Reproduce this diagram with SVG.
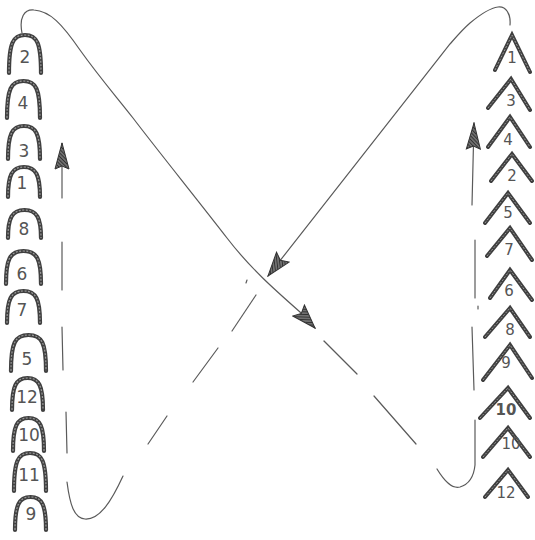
<svg xmlns="http://www.w3.org/2000/svg" width="535" height="540" viewBox="0 0 535 540">
<style>
.arch{fill:none;stroke:#404040;stroke-width:4.2;stroke-linecap:round}
.archin{fill:none;stroke:#9a9a9a;stroke-width:1.2;stroke-dasharray:2 1.5}
.chev{fill:none;stroke:#3f3f3f;stroke-width:4;stroke-linecap:round;stroke-linejoin:miter}
.chevin{fill:none;stroke:#9a9a9a;stroke-width:1;stroke-dasharray:2 1.5}
.lbl{font-family:"DejaVu Sans",sans-serif;font-size:17px;fill:#555;text-anchor:middle}
.clbl{font-family:"DejaVu Sans",sans-serif;font-size:15px;fill:#555;text-anchor:middle}
.ln{fill:none;stroke:#5a5a5a;stroke-width:1.2;stroke-linecap:round}
</style>
<defs>
<pattern id="hatch" width="2.6" height="2.6" patternUnits="userSpaceOnUse" patternTransform="rotate(45)">
<rect width="2.6" height="2.6" fill="#707070"/>
<line x1="0" y1="0" x2="0" y2="2.6" stroke="#262626" stroke-width="1.5"/>
</pattern>
<marker id="head" viewBox="0 0 26 18" refX="25" refY="9" markerWidth="26" markerHeight="18" markerUnits="userSpaceOnUse" orient="auto">
<path d="M1,1 L25,9 L1,17 L5,9 Z" fill="url(#hatch)" stroke="#333" stroke-width="1"/>
</marker>
<marker id="headS" viewBox="0 0 28 16" refX="27" refY="8" markerWidth="28" markerHeight="16" markerUnits="userSpaceOnUse" orient="auto">
<path d="M1,1 L27,8 L1,15 L4,8 Z" fill="url(#hatch)" stroke="#333" stroke-width="1"/>
</marker>
</defs>
<rect width="535" height="540" fill="#fff"/>

<g id="connectors">
<path class="ln" d="M22,33 C19,18 24,9 34,10 C50,11 62,24 80,50 C100,78 115,95 133,118 C155,147 200,203 227,238 C250,268 275,290 300,312 L315,328" marker-end="url(#head)"/>
<path class="ln" d="M324,341 L357,374"/>
<path class="ln" d="M374,396 L416,444"/>
<path class="ln" d="M437,469 C445,482 452,489 460,487 C470,484 474,475 475,465 L475,420"/>
<path class="ln" d="M474,390 L472,327"/>
<path class="ln" d="M478,306 L478,309"/>
<path class="ln" d="M475,298 L475,240"/>
<path class="ln" d="M472,205 L474,123" marker-end="url(#headS)"/>
<path class="ln" d="M510,25 C511,14 506,6 498,7 C490,8 482,13 470,23 C462,30 457,36 450,44 L268,276" marker-end="url(#head)"/>
<path class="ln" d="M247,280 L246,283"/>
<path class="ln" d="M256,295 L232,331"/>
<path class="ln" d="M218,348 L193,382"/>
<path class="ln" d="M167,416 L148,444"/>
<path class="ln" d="M123,476 C112,500 100,520 85,519 C74,518 70,505 67,482"/>
<path class="ln" d="M67,453 L66,412"/>
<path class="ln" d="M63,370 L62,327"/>
<path class="ln" d="M62,290 L62,242"/>
<path class="ln" d="M62,198 L62,143" marker-end="url(#headS)"/>
</g>

<g id="arch-2"><path class="arch" d="M9,73 C9,43 13,35 25,35 C37,35 41,43 41,73"/><path class="archin" d="M9,73 C9,43 13,35 25,35 C37,35 41,43 41,73"/><text class="lbl" x="25" y="63">2</text></g>
<g id="arch-4"><path class="arch" d="M7,118 C7,89 11,81 23.5,81 C36,81 40,89 40,118"/><path class="archin" d="M7,118 C7,89 11,81 23.5,81 C36,81 40,89 40,118"/><text class="lbl" x="23" y="109">4</text></g>
<g id="arch-3"><path class="arch" d="M8,159 C8,134 12,126 24,126 C36,126 40,134 40,159"/><path class="archin" d="M8,159 C8,134 12,126 24,126 C36,126 40,134 40,159"/><text class="lbl" x="24" y="157">3</text></g>
<g id="arch-1"><path class="arch" d="M8,197 C8,175 12,167 24,167 C36,167 40,175 40,197"/><path class="archin" d="M8,197 C8,175 12,167 24,167 C36,167 40,175 40,197"/><text class="lbl" x="22" y="189">1</text></g>
<g id="arch-8"><path class="arch" d="M8,238 C8,218 12,210 24.5,210 C37,210 41,218 41,238"/><path class="archin" d="M8,238 C8,218 12,210 24.5,210 C37,210 41,218 41,238"/><text class="lbl" x="24" y="235">8</text></g>
<g id="arch-6"><path class="arch" d="M6,284 C6,259 10,251 23.5,251 C37,251 41,259 41,284"/><path class="archin" d="M6,284 C6,259 10,251 23.5,251 C37,251 41,259 41,284"/><text class="lbl" x="22" y="280">6</text></g>
<g id="arch-7"><path class="arch" d="M7,323 C7,299 11,291 23.5,291 C36,291 40,299 40,323"/><path class="archin" d="M7,323 C7,299 11,291 23.5,291 C36,291 40,299 40,323"/><text class="lbl" x="22" y="316">7</text></g>
<g id="arch-5"><path class="arch" d="M11,371 C11,343 15,335 28.5,335 C42,335 46,343 46,371"/><path class="archin" d="M11,371 C11,343 15,335 28.5,335 C42,335 46,343 46,371"/><text class="lbl" x="27" y="365">5</text></g>
<g id="arch-12"><path class="arch" d="M12,410 C12,386 16,378 27.5,378 C39,378 43,386 43,410"/><path class="archin" d="M12,410 C12,386 16,378 27.5,378 C39,378 43,386 43,410"/><text class="lbl" x="27" y="403">12</text></g>
<g id="arch-10"><path class="arch" d="M13,451 C13,426 17,418 28.5,418 C40,418 44,426 44,451"/><path class="archin" d="M13,451 C13,426 17,418 28.5,418 C40,418 44,426 44,451"/><text class="lbl" x="29" y="441">10</text></g>
<g id="arch-11"><path class="arch" d="M14,491 C14,461 18,453 30,453 C42,453 46,461 46,491"/><path class="archin" d="M14,491 C14,461 18,453 30,453 C42,453 46,461 46,491"/><text class="lbl" x="29" y="481">11</text></g>
<g id="arch-9"><path class="arch" d="M15,530 C15,505 19,497 30.5,497 C42,497 46,505 46,530"/><path class="archin" d="M15,530 C15,505 19,497 30.5,497 C42,497 46,505 46,530"/><text class="lbl" x="31" y="520">9</text></g>

<g id="chev-1"><polyline class="chev" points="495,70 512,35 530,72"/><polyline class="chevin" points="495,70 512,35 530,72"/><text class="clbl" x="512" y="63">1</text></g>
<g id="chev-3"><polyline class="chev" points="488,108 511,79 530,110"/><polyline class="chevin" points="488,108 511,79 530,110"/><text class="clbl" x="511" y="106">3</text></g>
<g id="chev-4"><polyline class="chev" points="488,147 510,117 530,147"/><polyline class="chevin" points="488,147 510,117 530,147"/><text class="clbl" x="508" y="145">4</text></g>
<g id="chev-2"><polyline class="chev" points="491,181 512,154 532,181"/><polyline class="chevin" points="491,181 512,154 532,181"/><text class="clbl" x="512" y="181">2</text></g>
<g id="chev-5"><polyline class="chev" points="485,223 508,193 530,223"/><polyline class="chevin" points="485,223 508,193 530,223"/><text class="clbl" x="508" y="218">5</text></g>
<g id="chev-7"><polyline class="chev" points="487,256 510,228 532,260"/><polyline class="chevin" points="487,256 510,228 532,260"/><text class="clbl" x="509" y="255">7</text></g>
<g id="chev-6"><polyline class="chev" points="490,298 510,270 532,300"/><polyline class="chevin" points="490,298 510,270 532,300"/><text class="clbl" x="509" y="296">6</text></g>
<g id="chev-8"><polyline class="chev" points="485,337 510,308 530,337"/><polyline class="chevin" points="485,337 510,308 530,337"/><text class="clbl" x="510" y="335">8</text></g>
<g id="chev-9"><polyline class="chev" points="483,380 510,345 532,378"/><polyline class="chevin" points="483,380 510,345 532,378"/><text class="clbl" x="506" y="368">9</text></g>
<g id="chev-10a"><polyline class="chev" points="480,418 508,388 530,418"/><polyline class="chevin" points="480,418 508,388 530,418"/><text class="clbl" x="506" y="415" font-weight="bold">10</text></g>
<g id="chev-10b"><polyline class="chev" points="483,457 508,428 530,457"/><polyline class="chevin" points="483,457 508,428 530,457"/><text class="clbl" x="511" y="449">10</text></g>
<g id="chev-12"><polyline class="chev" points="485,497 508,470 528,497"/><polyline class="chevin" points="485,497 508,470 528,497"/><text class="clbl" x="506" y="498">12</text></g>
</svg>
